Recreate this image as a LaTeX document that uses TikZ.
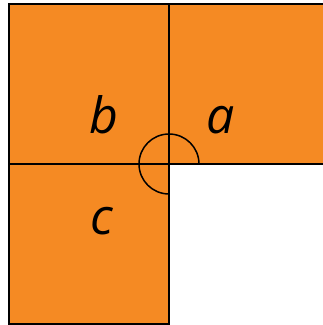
\documentclass[tikz,border=0pt]{standalone}
\usepackage{fontspec}
\setmainfont{Open Sans}
\definecolor{squareorange}{RGB}{245,138,35}
\tikzset{
    square/.style={fill=squareorange, draw=black, line width=1.5pt},
    letter/.style={anchor=base, font=\fontsize{50}{60}\selectfont\itshape}
}
\begin{document}
\begin{tikzpicture}[x=1pt, y=1pt]
    \useasboundingbox (0, 0) rectangle (323, 325);
    \clip (0, 0) rectangle (323, 325);
    \begin{scope}[]
    % Three squares meeting at one corner
    \draw[square] (9, 161) rectangle (169, 321);
    \draw[square] (169, 161) rectangle (329, 321);
    \draw[square] (9, 1) rectangle (169, 161);
    % Angle mark round the common vertex
    \coordinate (vertex) at (169, 161);
    \draw[line width=1.5pt] ([xshift=30pt]vertex) arc[start angle=0, end angle=270, radius=30];
    % Labels
    \node[letter] (b) at (104, 191) {b};
    \node[letter] (a) at (221, 191) {a};
    \node[letter] (c) at (102, 90) {c};
    \end{scope}
\end{tikzpicture}
\end{document}
